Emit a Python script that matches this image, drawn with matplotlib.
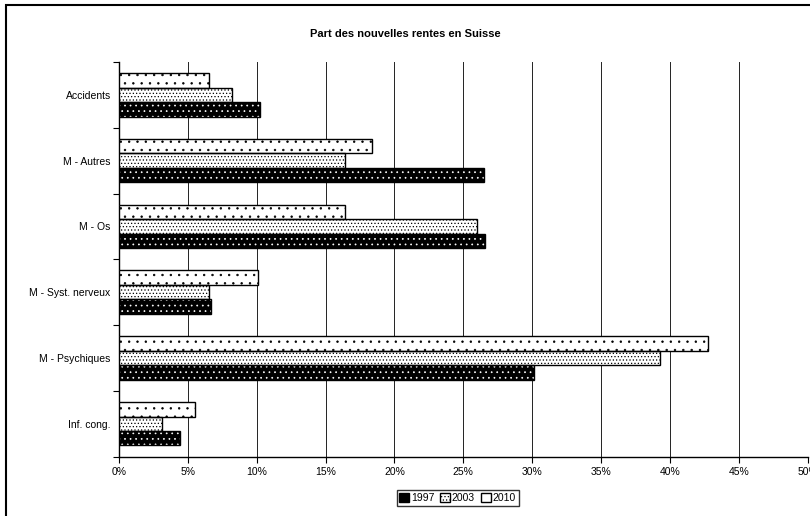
import numpy as np
import matplotlib.pyplot as plt
from matplotlib.patches import Rectangle, Patch

plt.rcParams['font.family'] = ['Liberation Sans', 'DejaVu Sans']
plt.rcParams['hatch.linewidth'] = 0.5

# Donnees (en %)
categories = ['Accidents', 'M - Autres', 'M - Os', 'M - Syst. nerveux', 'M - Psychiques', 'Inf. cong.']
v1997 = [10.2, 26.5, 26.6, 6.7, 30.1, 4.4]
v2003 = [8.2, 16.4, 26.0, 6.5, 39.3, 3.1]
v2010 = [6.5, 18.4, 16.4, 10.1, 42.8, 5.5]
annees = ['1997', '2003', '2010']
ticks = [0, 5, 10, 15, 20, 25, 30, 35, 40, 45, 50]

fig = plt.figure(figsize=(8.1, 5.16), dpi=100)
fig.patches.append(Rectangle((0.008, -0.2), 1.2, 1.19, transform=fig.transFigure,
                             fill=False, edgecolor='black', linewidth=1.5))
ax = fig.add_axes([0.147, 0.115, 0.85, 0.765])

y = np.arange(len(categories))[::-1]
h = 0.22

series = [(v1997, 'black', 'white', '...'), (v2003, 'white', 'black', '.....'), (v2010, 'white', 'black', '..')]
for i, (vals, fc, hc, hatch) in enumerate(series):
    pos = y - h + i * h
    ax.barh(pos, vals, height=h, color=fc, edgecolor=hc, hatch=hatch, linewidth=0, zorder=3)
    ax.barh(pos, vals, height=h, fill=False, edgecolor='black', linewidth=1.0, zorder=4)

ax.set_xlim(0, 50)
ax.set_ylim(-0.5, len(categories) - 0.5)
ax.set_xticks(ticks)
ax.set_xticklabels([f'{t}%' for t in ticks], fontsize=7.5)
ax.xaxis.grid(True, color='#222222', linewidth=0.7, zorder=0)
ax.set_yticks(y)
ax.set_yticklabels(categories, fontsize=7.5)
ax.tick_params(axis='y', length=0, pad=6)
ax.set_yticks(np.arange(-0.5, len(categories), 1), minor=True)
ax.tick_params(axis='y', which='minor', length=4, width=0.8)
ax.tick_params(axis='x', length=4, width=0.8)
for s in ['top', 'right']:
    ax.spines[s].set_visible(False)
ax.spines['left'].set_linewidth(1.0)
ax.spines['bottom'].set_linewidth(1.0)

fig.text(0.5, 0.935, 'Part des nouvelles rentes en Suisse', ha='center', va='center',
         fontsize=8, fontweight='bold')

handles = [Patch(facecolor='black', edgecolor='black', hatch='...'),
           Patch(facecolor='white', edgecolor='black', hatch='.....'),
           Patch(facecolor='white', edgecolor='black')]
fig.legend(handles, annees, loc='center', bbox_to_anchor=(0.565, 0.035), ncol=3,
           fontsize=7.5, frameon=True, fancybox=False, edgecolor='black',
           handlelength=0.9, handleheight=0.9, handletextpad=0.2, columnspacing=0.6,
           borderpad=0.25)

fig.savefig('out.png', dpi=100)
